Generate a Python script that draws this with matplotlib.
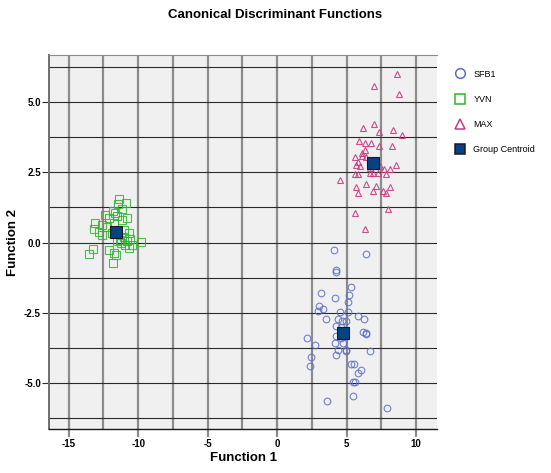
import matplotlib
matplotlib.use('Agg')
import matplotlib.pyplot as plt
from matplotlib.ticker import MultipleLocator

plt.rcParams['font.family'] = ['Liberation Sans', 'DejaVu Sans']

# Discriminant scores
sfb1_x = [4.12, 6.42, 4.21, 4.21, 5.29, 5.17, 3.18, 4.14, 5.10, 3.02, 3.30, 2.95,
          4.50, 5.10, 5.82, 6.23, 3.54, 4.38, 4.69, 4.98, 4.26, 4.62, 6.18, 6.42,
          6.37, 4.21, 2.18, 4.14, 4.74, 2.71, 4.38, 4.98, 6.66, 2.47, 4.26, 2.37,
          5.29, 5.51, 6.06, 5.82, 5.46, 5.58, 5.46, 3.59, 7.90, 4.62, 4.98]
sfb1_y = [-0.28, -0.40, -0.97, -1.04, -1.59, -1.86, -1.80, -1.97, -2.10, -2.26, -2.37, -2.42,
          -2.49, -2.49, -2.61, -2.73, -2.73, -2.73, -2.78, -2.78, -2.97, -2.99, -3.17, -3.23,
          -3.25, -3.32, -3.41, -3.56, -3.59, -3.64, -3.82, -3.86, -3.86, -4.06, -4.00, -4.39,
          -4.32, -4.34, -4.53, -4.63, -4.97, -4.95, -5.46, -5.64, -5.88, -3.41, -3.82]

yvn_x = [-11.40, -10.90, -11.18, -10.82, -11.83, -11.54, -12.38, -12.07, -13.10, -12.62,
         -13.15, -12.26, -11.78, -10.70, -10.58, -11.06, -11.25, -10.94, -10.46, -9.82,
         -10.70, -12.62, -11.90, -11.06, -13.22, -13.51, -12.07, -11.59, -11.78, -11.83,
         -11.30, -10.82, -11.54, -12.79, -11.18, -11.49, -11.66]
yvn_y = [1.56, 1.42, 1.19, 0.87, 1.14, 0.95, 0.99, 0.87, 0.71, 0.63,
         0.47, 0.57, 0.71, 0.33, 0.12, 0.19, -0.02, -0.08, -0.08, 0.01,
         -0.20, 0.27, 0.33, 0.45, -0.23, -0.40, -0.28, -0.44, -0.38, -0.74,
         0.09, 0.04, 0.04, 0.39, 0.81, 1.38, 1.04]

max_x = [8.62, 6.97, 8.76, 6.18, 6.97, 7.33, 8.33, 8.96, 5.89, 6.30, 6.73, 7.33, 8.29,
         6.30, 6.13, 5.60, 6.08, 6.42, 5.70, 5.94, 6.94, 7.38, 8.09, 8.52, 7.71, 5.58,
         5.82, 6.66, 6.90, 7.85, 4.50, 5.65, 6.37, 7.09, 8.14, 5.80, 6.90, 7.61, 7.85,
         7.95, 5.60, 6.32, 5.82, 7.26, 6.66]
max_y = [6.01, 5.58, 5.29, 4.08, 4.23, 3.95, 4.01, 3.82, 3.63, 3.56, 3.54, 3.44, 3.44,
         3.30, 3.18, 3.06, 3.09, 3.06, 2.77, 2.73, 2.77, 2.71, 2.61, 2.75, 2.61, 2.45,
         2.45, 2.49, 2.47, 2.45, 2.23, 1.99, 2.09, 2.02, 1.97, 1.78, 1.85, 1.85, 1.78,
         1.21, 1.04, 0.50, 2.87, 2.49, 2.65]

centroid_x = [4.74, -11.59, 6.90]
centroid_y = [-3.23, 0.38, 2.85]

fig = plt.figure(figsize=(5.51, 4.73), dpi=100)
ax = fig.add_axes([0.0895, 0.0924, 0.7035, 0.7914])
ax.set_facecolor('#f0f0f0')

ax.plot(sfb1_x, sfb1_y, 'o', ms=4.8, mfc='none', mec='#5a6ec4', mew=0.8, alpha=0.85, label='SFB1')
ax.plot(yvn_x, yvn_y, 's', ms=5.2, mfc='none', mec='#2fb52f', mew=0.8, alpha=0.85, label='YVN')
ax.plot(max_x, max_y, '^', ms=4.3, mfc='none', mec='#c83c82', mew=0.8, alpha=0.9, label='MAX')
ax.plot(centroid_x, centroid_y, 's', ms=8, mfc='#034284', mec='#1a1a1a', mew=0.8,
        label='Group Centroid', zorder=5)

ax.set_xlim(-16.4, 11.5)
ax.set_ylim(-6.65, 6.68)

ax.xaxis.set_major_locator(MultipleLocator(5))
ax.xaxis.set_minor_locator(MultipleLocator(2.5))
ax.yaxis.set_major_locator(MultipleLocator(2.5))
ax.yaxis.set_minor_locator(MultipleLocator(1.25))
ax.set_axisbelow(True)
ax.grid(True, axis='x', which='both', color='#8c8c8c', lw=1.6)
ax.grid(True, axis='y', which='both', color='#2a2a2a', lw=0.8)

ax.xaxis.set_major_formatter(plt.FuncFormatter(lambda v, p: '%d' % v))
ax.yaxis.set_major_formatter(plt.FuncFormatter(lambda v, p: '%.1f' % v))
ax.tick_params(axis='x', which='major', length=6, width=1.6, color='#8c8c8c', labelsize=7, pad=1)
ax.tick_params(axis='y', which='major', length=5, width=0.8, color='#2a2a2a', labelsize=7, pad=1)
ax.tick_params(which='minor', length=0)
for lab in ax.get_xticklabels() + ax.get_yticklabels():
    lab.set_fontweight('bold')

ax.spines['right'].set_visible(False)
ax.spines['top'].set_color('#8c8c8c')
ax.spines['left'].set_color('#6e6e6e')
ax.spines['left'].set_linewidth(1.4)
ax.spines['bottom'].set_color('#1a1a1a')
ax.spines['bottom'].set_linewidth(1.0)

ax.set_xlabel('Function 1', fontsize=9.5, fontweight='bold', labelpad=2)
ax.set_ylabel('Function 2', fontsize=9.5, fontweight='bold', labelpad=4)
fig.text(0.5, 0.968, 'Canonical Discriminant Functions', ha='center', va='center',
         fontsize=9.5, fontweight='bold')

leg = fig.legend(loc='upper left', bbox_to_anchor=(0.81, 0.87), frameon=False,
                 fontsize=6.5, labelspacing=1.8, handletextpad=0.9, handlelength=1.2)
for h, size in zip(leg.legend_handles, [7, 7, 7.5, 7]):
    h.set_markersize(size)
    h.set_markeredgewidth(1.1)
    h.set_alpha(1)

fig.savefig('out.png', dpi=100)
